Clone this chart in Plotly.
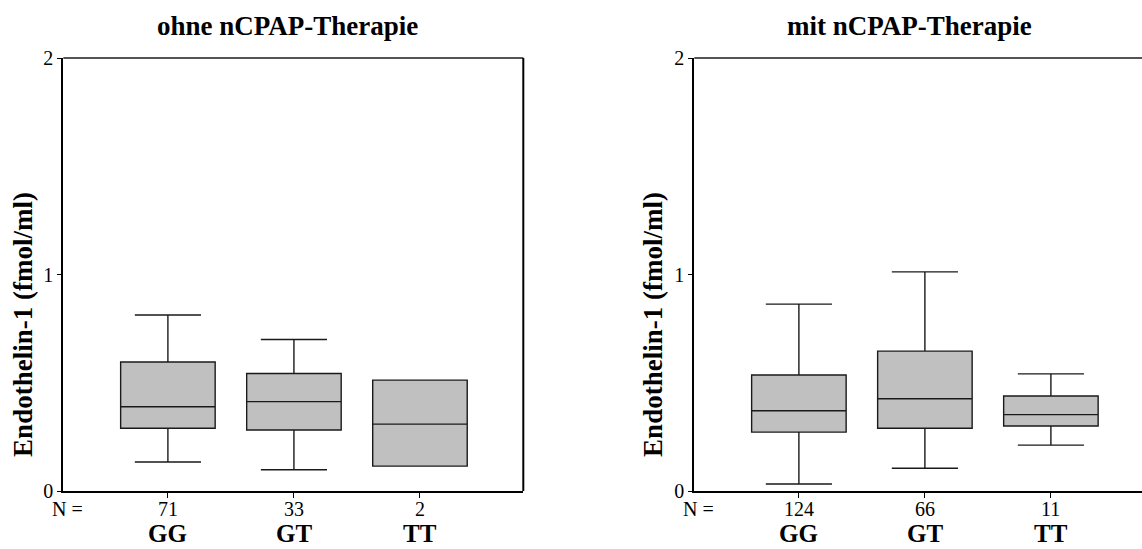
import plotly.graph_objects as go

# Endothelin-1 by genotype, with and without nCPAP therapy
genotypes = ["GG", "GT", "TT"]
panel_titles = ["ohne nCPAP-Therapie", "mit nCPAP-Therapie"]

# ohne nCPAP-Therapie
n_ohne = [71, 33, 2]
low_ohne = [0.134, 0.098, 0.115]
q1_ohne = [0.290, 0.282, 0.115]
med_ohne = [0.389, 0.413, 0.309]
q3_ohne = [0.596, 0.543, 0.512]
high_ohne = [0.813, 0.700, 0.512]

# mit nCPAP-Therapie
n_mit = [124, 66, 11]
low_mit = [0.032, 0.105, 0.212]
q1_mit = [0.272, 0.290, 0.300]
med_mit = [0.371, 0.426, 0.353]
q3_mit = [0.536, 0.646, 0.439]
high_mit = [0.863, 1.012, 0.541]

y_ticks = [0, 1, 2]
y_title = "Endothelin-1 (fmol/ml)"

W, H = 1142, 549
FONT = "Times New Roman, Liberation Serif, serif"
PLOT_H = 549 - 58.3 - 58

fig = go.Figure()

panels = [
    dict(n=n_ohne, lo=low_ohne, q1=q1_ohne, med=med_ohne, q3=q3_ohne, hi=high_ohne,
         xa="x", ya="y", dom=[63.3 / W, 523.3 / W], rng=[-0.83, 2.82],
         title_x=287.5 / W, ytitle_x=23 / W),
    dict(n=n_mit, lo=low_mit, q1=q1_mit, med=med_mit, q3=q3_mit, hi=high_mit,
         xa="x2", ya="y2", dom=[694.3 / W, 1.0], rng=[-0.83, 2.723],
         title_x=909.4 / W, ytitle_x=653 / W),
]

annotations = []
shapes = []
for i, p in enumerate(panels):
    fig.add_trace(go.Box(
        x=genotypes, q1=p["q1"], median=p["med"], q3=p["q3"],
        lowerfence=p["lo"], upperfence=p["hi"],
        boxpoints=False, width=0.75, whiskerwidth=0.7,
        fillcolor="#c0c0c0", line=dict(color="#1a1a1a", width=1.4),
        xaxis=p["xa"], yaxis=p["ya"], showlegend=False, hoverinfo="skip",
    ))
    sfx = "" if i == 0 else "2"
    fig.update_layout(**{
        "xaxis" + sfx: dict(domain=p["dom"], type="category", range=p["rng"],
                            showline=True, linecolor="black", linewidth=2,
                            ticks="outside", ticklen=5, tickcolor="black",
                            showticklabels=False, showgrid=False, zeroline=False,
                            anchor="y" + sfx),
        "yaxis" + sfx: dict(domain=[0, 1], range=[0, 2], tickvals=y_ticks,
                            showline=True, linecolor="black", linewidth=2,
                            ticks="outside", ticklen=4, tickcolor="black",
                            tickfont=dict(family=FONT, size=20, color="black"),
                            showgrid=False, zeroline=False, anchor="x" + sfx),
    })
    xref = p["xa"]
    yref = p["ya"]
    # top frame line
    shapes.append(dict(type="line", xref=xref + " domain", yref=yref + " domain",
                       x0=0, x1=1, y0=1, y1=1, line=dict(color="#555555", width=2)))
    if i == 0:
        shapes.append(dict(type="line", xref=xref + " domain", yref=yref + " domain",
                           x0=1, x1=1, y0=0, y1=1, line=dict(color="black", width=2)))
    # panel title
    annotations.append(dict(text="<b>%s</b>" % panel_titles[i], xref="paper", yref="paper",
                            x=p["title_x"], y=(549 - 26 - 58) / PLOT_H,
                            yanchor="middle", xanchor="center", showarrow=False,
                            font=dict(family=FONT, size=27, color="black")))
    # y-axis title
    annotations.append(dict(text="<b>%s</b>" % y_title, xref="paper", yref="paper",
                            x=p["ytitle_x"], y=(491 - 325) / PLOT_H,
                            textangle=-90, xanchor="center", yanchor="middle",
                            showarrow=False, font=dict(family=FONT, size=27, color="black")))
    # sample sizes and genotype labels
    annotations.append(dict(text="N =", xref=xref, yref=yref + " domain", x=-0.80,
                            y=-18 / PLOT_H, yanchor="middle", xanchor="center", showarrow=False,
                            font=dict(family=FONT, size=20, color="black")))
    for g, n in zip(genotypes, p["n"]):
        annotations.append(dict(text=str(n), xref=xref, yref=yref + " domain", x=g,
                                y=-18 / PLOT_H, yanchor="middle", xanchor="center",
                                showarrow=False, font=dict(family=FONT, size=20, color="black")))
        annotations.append(dict(text="<b>%s</b>" % g, xref=xref, yref=yref + " domain", x=g,
                                y=-42 / PLOT_H, yanchor="middle", xanchor="center",
                                showarrow=False, font=dict(family=FONT, size=25, color="black")))

fig.update_layout(
    width=W, height=H,
    margin=dict(l=0, r=0, t=58.3, b=58),
    paper_bgcolor="white", plot_bgcolor="white",
    annotations=annotations, shapes=shapes,
    font=dict(family=FONT, color="black"),
)

fig.write_html("out.html")
